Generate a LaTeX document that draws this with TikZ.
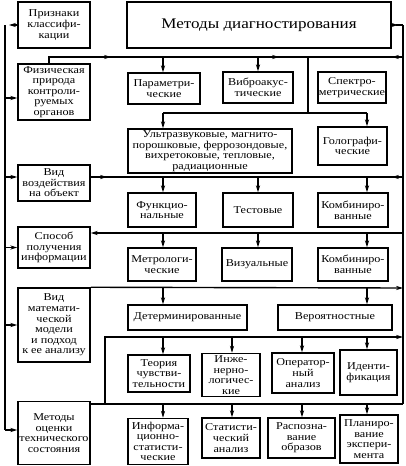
\documentclass[tikz,border=0pt]{standalone}
\usepackage{fontspec}
\setmainfont{Liberation Serif}[FakeStretch=1.16]
\usetikzlibrary{arrows.meta,calc}
\begin{document}
\begin{tikzpicture}[x=1pt,y=-1pt,
  ln/.style={line width=1.4pt},
  bx/.style={draw,line width=1.5pt,inner sep=0pt,align=center,font=\fontsize{10.5}{10.6}\selectfont},
  tipA/.style={-{Stealth[length=7pt,width=4.2pt]}}
]
\useasboundingbox (0,0) rectangle (406,466);
% boxes
\node[bx,minimum width=72pt,minimum height=46pt] (pk) at (54,25) {Признаки\\классифи-\\кации};
\node[bx,minimum width=264pt,minimum height=46pt,font=\fontsize{14.7}{15}\selectfont] (md) at (259,25) {Методы диагностирования};
\node[bx,minimum width=72pt,minimum height=56pt] (fp) at (54,92) {Физическая\\природа\\контроли-\\руемых\\органов};
\node[bx,minimum width=72pt,minimum height=31pt] (par) at (164,88.5) {Параметри-\\ческие};
\node[bx,minimum width=70pt,minimum height=31pt] (vib) at (258,87.5) {Виброакус-\\тические};
\node[bx,minimum width=68pt,minimum height=31pt] (spe) at (352,87.5) {Спектро-\\метрические};
\node[bx,minimum width=164pt,minimum height=44pt] (ult) at (210,151) {Ультразвуковые, магнито-\\порошковые, феррозондовые,\\вихретоковые, тепловые,\\радиационные};
\node[bx,minimum width=69pt,minimum height=38pt] (gol) at (352.5,146) {Голографи-\\ческие};
\node[bx,minimum width=72pt,minimum height=36pt] (vv) at (54,183) {Вид\\воздействия\\на объект};
\node[bx,minimum width=68pt,minimum height=34pt] (fun) at (162,210) {Функцио-\\нальные};
\node[bx,minimum width=70pt,minimum height=34pt] (tes) at (258,210) {Тестовые};
\node[bx,minimum width=70pt,minimum height=34pt] (kom1) at (353,210) {Комбиниро-\\ванные};
\node[bx,minimum width=72pt,minimum height=41pt] (sp) at (54,247.5) {Способ\\получения\\информации};
\node[bx,minimum width=68pt,minimum height=33pt] (met) at (162,264.5) {Метрологи-\\ческие};
\node[bx,minimum width=70pt,minimum height=33pt] (viz) at (257,264.5) {Визуальные};
\node[bx,minimum width=70pt,minimum height=33pt] (kom2) at (353,264.5) {Комбиниро-\\ванные};
\node[bx,minimum width=72pt,minimum height=74pt] (vm) at (54,325) {Вид\\математи-\\ческой\\модели\\и подход\\к ее анализу};
\node[bx,minimum width=119pt,minimum height=25pt] (det) at (187.5,317.5) {Детерминированные};
\node[bx,minimum width=114pt,minimum height=25pt] (ver) at (335,317.5) {Вероятностные};
\node[bx,minimum width=62pt,minimum height=37pt] (teo) at (159,373.5) {Теория\\чувстви-\\тельности};
\node[bx,minimum width=58pt,minimum height=43pt] (ing) at (231,375) {Инже-\\нерно-\\логичес-\\кие};
\node[bx,minimum width=62pt,minimum height=40pt] (ope) at (303,373) {Оператор-\\ный\\анализ};
\node[bx,minimum width=57pt,minimum height=45pt] (ide) at (368.5,372.5) {Иденти-\\фикация};
\node[bx,minimum width=72pt,minimum height=63pt] (mo) at (54,433) {Методы\\оценки\\технического\\состояния};
\node[bx,minimum width=60pt,minimum height=46pt] (inf) at (158,441.5) {Информа-\\ционно-\\статисти-\\ческие};
\node[bx,minimum width=58pt,minimum height=40pt] (sta) at (231,438) {Статисти-\\ческий\\анализ};
\node[bx,minimum width=67pt,minimum height=40pt] (ras) at (301.5,438) {Распозна-\\вание\\образов};
\node[bx,minimum width=58pt,minimum height=48pt] (pla) at (369,439) {Планиро-\\вание\\экспери-\\мента};
% column / row coordinates
\coordinate (c1) at (163,0);
\coordinate (c2) at (258,0);
\coordinate (c3) at (367,0);
\coordinate (d2) at (232,0);
\coordinate (d3) at (302,0);
\coordinate (R) at (403,0);
\coordinate (L) at (5,0);
\coordinate (y57) at (0,57);
\coordinate (y113) at (0,113);
\coordinate (y177) at (0,177);
\coordinate (y233) at (0,233);
\coordinate (y288) at (0,288);
\coordinate (y337) at (0,337);
\coordinate (y404) at (0,404);
% left spine
\draw[ln] (L |- pk.west) -- (L |- 0,430);
\draw[ln,tipA] (pk.west) -- (9,0 |- pk.west);
\draw[ln,tipA] ($(L |- fp.west)+(0,6)$) -- ($(fp.west)+(0,6)$);
\draw[ln,tipA] (L |- y177) -- (fp.west |- y177);
\draw[ln,tipA] (L |- sp.west) -- (sp.west);
\draw[ln,tipA] (L |- vm.west) -- (vm.west);
\draw[ln,tipA] (L |- 0,430) -- (mo.west |- 0,430);
% right spine
\draw[ln,tipA] (md.east) -- (398,0 |- md.east);
\draw[ln] (R |- md.east) -- (R |- y404);
\draw[ln] (396,0 |- md.east) -- (R |- md.east);
% row 57
\draw[ln,tipA] (49,0 |- fp.north) -- (49,0 |- y57) -- (111,0 |- y57);
\draw[ln,tipA] (108,0 |- y57) -- (279,0 |- y57);
\draw[ln] (276,0 |- y57) -- (R |- y57);
\draw[ln,tipA] (R |- y57) -- (392,0 |- y57);
\draw[ln,tipA] (c1 |- y57) -- (c1 |- par.north);
\draw[ln,tipA] (c2 |- y57) -- (c2 |- vib.north);
\draw[ln] (308,0 |- y57) -- (308,0 |- y113);
\draw[ln] (c1 |- y113) -- (c3 |- y113);
\draw[ln,tipA] (c1 |- y113) -- (c1 |- ult.north);
\draw[ln,tipA] (c3 |- y113) -- (c3 |- gol.north);
% row 177
\draw[ln,tipA] (vv.east |- y177) -- (107,0 |- y177);
\draw[ln] (104,0 |- y177) -- (R |- y177);
\draw[ln,tipA] (R |- y177) -- (392,0 |- y177);
\draw[ln,tipA] (c1 |- y177) -- (c1 |- fun.north);
\draw[ln,tipA] (c2 |- y177) -- (c2 |- tes.north);
\draw[ln,tipA] (c3 |- y177) -- (c3 |- kom1.north);
% row 233
\draw[ln,tipA] (R |- y233) -- (sp.east |- y233);
\draw[ln,tipA] (c1 |- y233) -- (c1 |- met.north);
\draw[ln,tipA] (c2 |- y233) -- (c2 |- viz.north);
\draw[ln,tipA] (c3 |- y233) -- (c3 |- kom2.north);
% row 288
\draw[ln,tipA] (vm.north east) -- (R |- y288);
\draw[ln,tipA] (c1 |- y288) -- (c1 |- det.north);
\draw[ln,tipA] (c3 |- y288) -- (c3 |- ver.north);
% row 337 and 404
\draw[ln,tipA] (105,0 |- y404) -- (105,0 |- y337) -- (R |- y337);
\draw[ln,tipA] (c1 |- y337) -- (c1 |- teo.north);
\draw[ln,tipA] (d2 |- y337) -- (d2 |- ing.north);
\draw[ln,tipA] (d3 |- y337) -- (d3 |- ope.north);
\draw[ln,tipA] (c3 |- y337) -- (c3 |- ide.north);
\draw[ln] (mo.east |- y404) -- (R |- y404);
\draw[ln,tipA] (c1 |- y404) -- (c1 |- inf.north);
\draw[ln,tipA] (d2 |- y404) -- (d2 |- sta.north);
\draw[ln,tipA] (d3 |- y404) -- (d3 |- ras.north);
\draw[ln,tipA] (c3 |- y404) -- (c3 |- pla.north);
\end{tikzpicture}
\end{document}
